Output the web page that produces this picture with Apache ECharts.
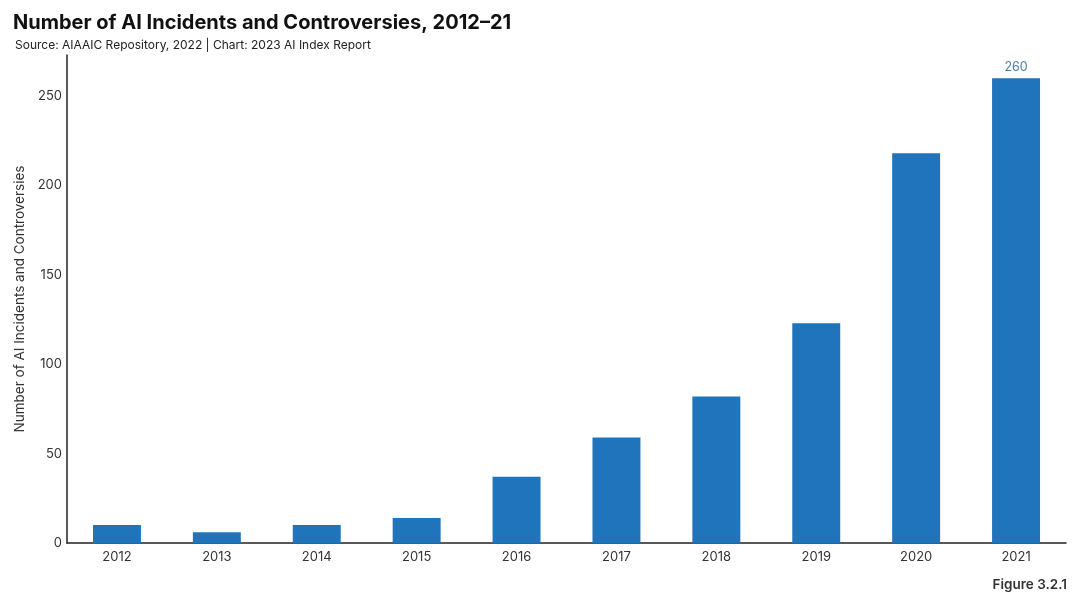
<!DOCTYPE html>
<html><head><meta charset="utf-8">
<script src="https://cdn.jsdelivr.net/npm/echarts@6/dist/echarts.min.js"></script>
<style>html,body{margin:0;padding:0;background:#fff}#c{width:1080px;height:600px}</style>
</head><body><div id="c"></div>
<script>
const years = ['2012','2013','2014','2015','2016','2017','2018','2019','2020','2021'];
const incidents = [10, 6, 10, 14, 37, 59, 82, 123, 218, 260];
const yTicks = [0, 50, 100, 150, 200, 250];

const chart = echarts.init(document.getElementById('c'));
chart.setOption({
  animation: false,
  title: [
    {text: 'Number of AI Incidents and Controversies, 2012–21', left: 8, top: 8,
     textStyle: {fontFamily: 'Inter', fontSize: 20, fontWeight: 'bold', color: '#111'}},
    {text: 'Source: AIAAIC Repository, 2022 | Chart: 2023 AI Index Report', left: 10, top: 34,
     textStyle: {fontFamily: 'Inter', fontSize: 12, fontWeight: 'normal', color: '#222'}},
    {text: 'Figure 3.2.1', right: 8, top: 573,
     textStyle: {fontFamily: 'Inter', fontSize: 13.5, fontWeight: 600, color: '#333'}}
  ],
  grid: {left: 67, right: 14, top: 55, bottom: 57},
  xAxis: {
    type: 'category', data: years,
    axisLine: {lineStyle: {color: '#222', width: 1.5}},
    axisTick: {show: false},
    axisLabel: {fontFamily: 'Inter', fontSize: 13, color: '#333', margin: 8}
  },
  yAxis: {
    type: 'value', min: 0, max: 273, interval: 50,
    name: 'Number of AI Incidents and Controversies', nameLocation: 'middle', nameGap: 40,
    nameTextStyle: {fontFamily: 'Inter', fontSize: 13.5, color: '#333'},
    axisLine: {show: true, lineStyle: {color: '#222', width: 1.5}},
    axisTick: {show: false},
    splitLine: {show: false},
    axisLabel: {fontFamily: 'Inter', fontSize: 13, color: '#333', margin: 5, showMaxLabel: false,
      formatter: v => yTicks.includes(v) ? String(v) : ''}
  },
  series: [{
    type: 'bar', data: incidents.map((v, i) => ({
      value: v,
      label: {show: i === incidents.length - 1, position: 'top', distance: 5,
              fontFamily: 'Inter', fontSize: 12.5, color: '#4f7ca8'}
    })),
    barWidth: '48%',
    itemStyle: {color: '#1f74bb'}
  }]
});
</script></body></html>
